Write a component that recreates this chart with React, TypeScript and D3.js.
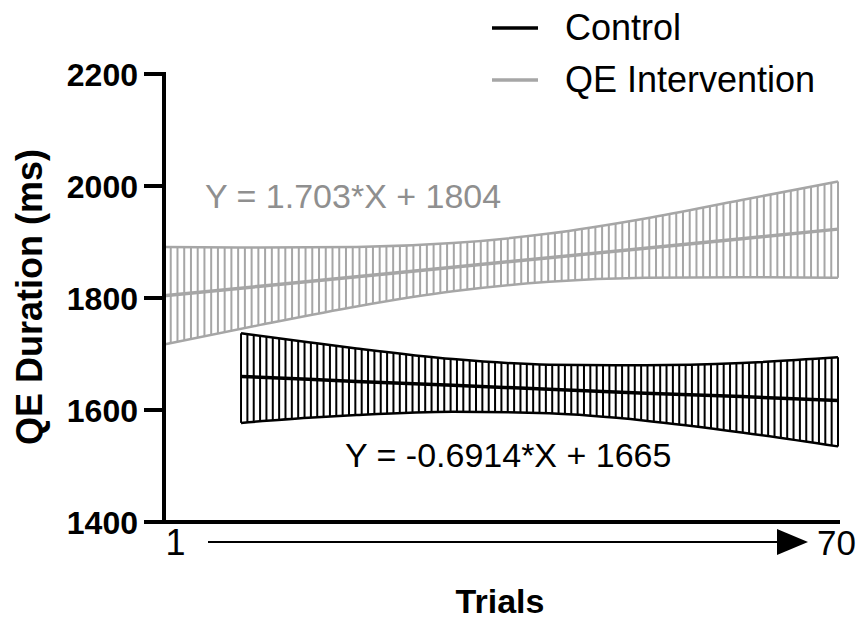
import React from 'react';
import * as d3 from 'd3';

// ---- data ----
const yTicks = [1400, 1600, 1800, 2000, 2200];
const xEndLabels = ['1', '70'];
const seriesNames = ['Control', 'QE Intervention'];
const equations = ['Y = -0.6914*X + 1665', 'Y = 1.703*X + 1804'];

// QE Intervention: regression line and 95% confidence band
const qeX = [0, 10, 20, 30, 40, 50, 60, 70];
const qeFit = [1804, 1821, 1838, 1855, 1872, 1889, 1906, 1923];
const qeUpper = [1891, 1890, 1891, 1898, 1915, 1942, 1975, 2008];
const qeLower = [1717, 1752, 1785, 1812, 1829, 1836, 1837, 1836];

// Control: regression line and 95% confidence band
const ctrlX = [8, 15, 20, 30, 40, 50, 60, 70];
const ctrlFit = [1660, 1655, 1651, 1644, 1637, 1630, 1624, 1617];
const ctrlUpper = [1737, 1721, 1710, 1691, 1681, 1680, 1684, 1694];
const ctrlLower = [1577, 1586, 1591, 1597, 1594, 1581, 1560, 1535];

const W = 856;
const H = 620;
const FONT = '"Liberation Sans", Arial, Helvetica, sans-serif';
const BLACK = '#000000';
const GRAY = '#a6a6a6';
const GRAY_TEXT = '#8f8f8f';

const xScale = d3.scaleLinear().domain([0, 70]).range([164, 838]);
const yScale = d3.scaleLinear().domain([1400, 2200]).range([522, 74]);

type Pt = { x: number; lo: number; hi: number; fit: number };

function Band(props: {
  id: string;
  xs: number[];
  lo: number[];
  hi: number[];
  fit: number[];
  color: string;
  n: number;
}) {
  const { id, xs, lo, hi, fit, color, n } = props;
  const pts: Pt[] = xs.map((x, i) => ({ x, lo: lo[i], hi: hi[i], fit: fit[i] }));
  const curve = d3.curveMonotoneX;
  const area = d3
    .area<Pt>()
    .x((d) => xScale(d.x))
    .y0((d) => yScale(d.lo))
    .y1((d) => yScale(d.hi))
    .curve(curve);
  const upper = d3.line<Pt>().x((d) => xScale(d.x)).y((d) => yScale(d.hi)).curve(curve);
  const lower = d3.line<Pt>().x((d) => xScale(d.x)).y((d) => yScale(d.lo)).curve(curve);
  const fitLine = d3.line<Pt>().x((d) => xScale(d.x)).y((d) => yScale(d.fit));
  const x0 = xs[0];
  const x1 = xs[xs.length - 1];
  const hatch = d3.range(1, n).map((i) => x0 + ((x1 - x0) * i) / n);
  const yTop = yScale(d3.max(hi) as number) - 3;
  const yBot = yScale(d3.min(lo) as number) + 3;
  const first = pts[0];
  const last = pts[pts.length - 1];
  return (
    <g>
      <clipPath id={id}>
        <path d={area(pts) || ''} />
      </clipPath>
      <g clipPath={`url(#${id})`}>
        {hatch.map((x, i) => (
          <line
            key={i}
            x1={xScale(x)}
            x2={xScale(x)}
            y1={yTop}
            y2={yBot}
            stroke={color}
            strokeWidth={2}
          />
        ))}
      </g>
      {[first, last].map((p, i) => (
        <line
          key={'e' + i}
          x1={xScale(p.x)}
          x2={xScale(p.x)}
          y1={yScale(p.hi)}
          y2={yScale(p.lo)}
          stroke={color}
          strokeWidth={2}
        />
      ))}
      <path d={upper(pts) || ''} fill="none" stroke={color} strokeWidth={2.5} />
      <path d={lower(pts) || ''} fill="none" stroke={color} strokeWidth={2.5} />
      <path d={fitLine(pts) || ''} fill="none" stroke={color} strokeWidth={3.5} />
    </g>
  );
}

export default function App() {
  const axisX = xScale(0);
  const axisY = yScale(1400);
  return (
    <svg
      width={W}
      height={H}
      style={{ position: 'absolute', left: 0, top: 0, background: '#fff' }}
      fontFamily={FONT}
    >
      <rect x={0} y={0} width={W} height={H} fill="#fff" />

      {/* bands */}
      <Band id="qeClip" xs={qeX} lo={qeLower} hi={qeUpper} fit={qeFit} color={GRAY} n={100} />
      <Band id="ctrlClip" xs={ctrlX} lo={ctrlLower} hi={ctrlUpper} fit={ctrlFit} color={BLACK} n={94} />

      {/* y axis */}
      <line x1={axisX} x2={axisX} y1={yScale(2200) - 2} y2={axisY + 2} stroke={BLACK} strokeWidth={4} />
      {yTicks.map((t) => (
        <g key={t}>
          <line x1={axisX - 20} x2={axisX} y1={yScale(t)} y2={yScale(t)} stroke={BLACK} strokeWidth={4} />
          <text
            x={axisX - 26}
            y={yScale(t)}
            dy="0.36em"
            textAnchor="end"
            fontSize={32}
            fontWeight="bold"
            fill={BLACK}
          >
            {t}
          </text>
        </g>
      ))}

      {/* x axis */}
      <line x1={axisX - 2} x2={xScale(70) + 2} y1={axisY} y2={axisY} stroke={BLACK} strokeWidth={4} />
      <text x={xScale(1) + 2} y={555} textAnchor="middle" fontSize={36} fill={BLACK}>
        {xEndLabels[0]}
      </text>
      <line x1={208} x2={780} y1={542} y2={542} stroke={BLACK} strokeWidth={2} />
      <path d="M777,529 L808,542 L777,555 Z" fill={BLACK} />
      <text x={xScale(70) - 21} y={555} textAnchor="start" fontSize={35} fill={BLACK}>
        {xEndLabels[1]}
      </text>

      {/* axis titles */}
      <text x={500} y={613} textAnchor="middle" fontSize={34} fontWeight="bold" fill={BLACK}>
        Trials
      </text>
      <text
        transform="translate(42,297) rotate(-90)"
        textAnchor="middle"
        fontSize={36}
        fontWeight="bold"
        fill={BLACK}
      >
        QE Duration (ms)
      </text>

      {/* equations */}
      <text x={205} y={208} fontSize={34} fill={GRAY_TEXT}>
        {equations[1]}
      </text>
      <text x={345} y={467} fontSize={34} fill={BLACK}>
        {equations[0]}
      </text>

      {/* legend */}
      <line x1={492} x2={538} y1={28} y2={28} stroke={BLACK} strokeWidth={3.5} />
      <text x={565} y={40} fontSize={36} fill={BLACK}>
        {seriesNames[0]}
      </text>
      <line x1={492} x2={538} y1={80} y2={80} stroke={GRAY} strokeWidth={3.5} />
      <text x={565} y={92} fontSize={36} fill={BLACK}>
        {seriesNames[1]}
      </text>
    </svg>
  );
}
